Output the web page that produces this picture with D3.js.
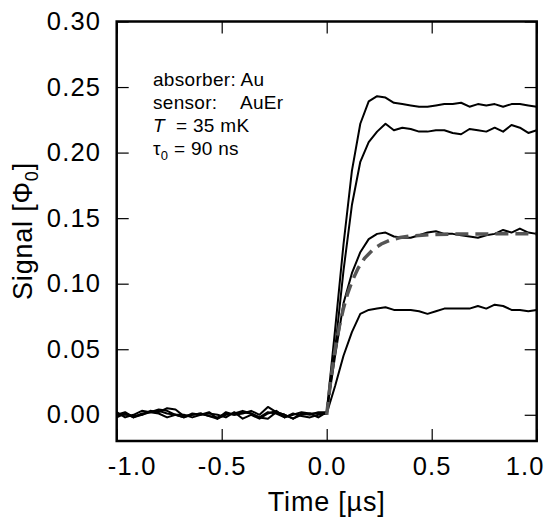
<!DOCTYPE html>
<html lang="en">
<head>
<meta charset="UTF-8">
<title>Signal vs time</title>
<style>
  body { margin: 0; background: #fff; }
  svg text { font-family: "Liberation Sans", Arial, Helvetica, sans-serif; fill: #000; }
</style>
</head>
<body>
<svg id="chart" width="547" height="521"></svg>

<script src="https://d3js.org/d3.v7.min.js"></script>
<script>
// time axis in µs
var times = [-1.00,-0.96,-0.92,-0.88,-0.84,-0.80,-0.76,-0.72,-0.68,-0.64,-0.60,-0.56,-0.52,-0.48,-0.44,-0.40,-0.36,-0.32,-0.28,-0.24,-0.20,-0.16,-0.12,-0.08,-0.04,
  0.00,0.04,0.08,0.12,0.16,0.20,0.24,0.28,0.32,0.36,0.40,0.44,0.48,0.52,0.56,0.60,0.64,0.68,0.72,0.76,0.80,0.84,0.88,0.92,0.96,1.00];

// measured pulses (Φ0)
var pulseA = [0.002,-0.002,0.000,0.003,0.002,0.004,0.003,0.000,-0.002,0.001,0.000,0.002,-0.003,0.000,0.001,0.003,0.001,-0.002,-0.003,0.002,0.000,-0.003,0.001,0.000,0.002,
  0.002,0.065,0.130,0.186,0.222,0.239,0.243,0.242,0.238,0.237,0.236,0.235,0.235,0.236,0.237,0.237,0.238,0.235,0.237,0.236,0.237,0.235,0.237,0.237,0.236,0.235];
var pulseB = [-0.002,0.001,-0.002,0.000,0.003,0.002,0.005,0.004,-0.001,0.000,0.001,-0.001,-0.002,0.001,0.000,0.002,0.001,-0.002,0.002,0.001,-0.002,0.000,0.002,0.001,0.001,
  0.001,0.050,0.110,0.160,0.193,0.208,0.216,0.222,0.217,0.219,0.218,0.216,0.216,0.217,0.217,0.215,0.214,0.218,0.217,0.216,0.219,0.216,0.221,0.219,0.215,0.217];
var pulseC = [0.000,0.002,-0.002,0.001,0.002,0.003,0.001,0.000,-0.002,0.000,0.001,-0.001,-0.003,0.002,0.000,0.001,0.003,0.000,0.006,0.002,0.000,-0.003,0.000,0.001,-0.002,
  0.002,0.045,0.085,0.108,0.124,0.134,0.138,0.139,0.136,0.135,0.135,0.137,0.139,0.140,0.138,0.138,0.137,0.136,0.135,0.137,0.138,0.141,0.139,0.142,0.139,0.138];
var pulseD = [-0.001,0.001,-0.001,0.000,0.002,0.001,-0.002,0.000,0.000,-0.002,0.000,0.001,0.000,-0.002,0.002,-0.003,0.000,-0.003,0.001,0.003,-0.002,0.001,-0.001,-0.002,0.000,
  0.001,0.022,0.045,0.063,0.077,0.080,0.081,0.082,0.080,0.080,0.080,0.079,0.077,0.079,0.081,0.081,0.081,0.081,0.083,0.081,0.084,0.083,0.080,0.080,0.079,0.080];

// fitted curve (dashed)
var fitTimes = [0.00,0.02,0.04,0.06,0.08,0.10,0.12,0.15,0.18,0.22,0.26,0.30,0.35,0.40,0.50,0.60,0.80,1.00];
var fitValues = [0.000,0.0275,0.0495,0.0672,0.0813,0.0926,0.1016,0.1119,0.1193,0.1260,0.1303,0.1331,0.1352,0.1364,0.1375,0.1378,0.1380,0.1380];

var xTicks = [-1.0,-0.5,0.0,0.5,1.0];
var yTicks = [0.00,0.05,0.10,0.15,0.20,0.25,0.30];

var svg = d3.select("#chart");
var mLeft = 116.7, mRight = 536.7, mTop = 21.5, mBottom = 441;

var x = d3.scaleLinear().domain([-1, 1]).range([mLeft, mRight]);
var y = d3.scaleLinear().domain([-0.02, 0.30]).range([mBottom, mTop]);

svg.append("defs").append("clipPath").attr("id", "clip")
  .append("rect").attr("x", mLeft).attr("y", mTop).attr("width", mRight - mLeft).attr("height", mBottom - mTop);

var line = d3.line()
  .x(function (d) { return x(d[0]); })
  .y(function (d) { return y(d[1]); });

var plot = svg.append("g").attr("clip-path", "url(#clip)");

[pulseA, pulseB, pulseC, pulseD].forEach(function (s) {
  plot.append("path")
    .attr("d", line(times.map(function (t, i) { return [t, s[i]]; })))
    .attr("fill", "none")
    .attr("stroke", "#000")
    .attr("stroke-width", 2)
    .attr("stroke-linejoin", "round");
});

plot.append("path")
  .attr("d", line(fitTimes.map(function (t, i) { return [t, fitValues[i]]; })))
  .attr("fill", "none")
  .attr("stroke", "#555")
  .attr("stroke-width", 3.5)
  .attr("stroke-dasharray", "13,7");

// axes with inward ticks
function styleAxis(g) {
  g.select(".domain").remove();
  g.selectAll(".tick line").attr("stroke", "#000").attr("stroke-width", 1.2);
  g.selectAll(".tick text").attr("font-size", 25.5).attr("fill", "#000")
    .attr("letter-spacing", 1.2)
    .style("font-family", "'Liberation Sans', Arial, sans-serif");
}
var fmt = function (d) { return d3.format(".1f")(d).replace("\u2212", "-"); };
var fmt2 = d3.format(".2f");

var xAxisG = svg.append("g").attr("transform", "translate(0," + mBottom + ")")
  .call(d3.axisBottom(x).tickValues(xTicks).tickFormat(fmt).tickSize(-12).tickPadding(15.5))
  .call(styleAxis);
// end labels pulled inward, as in the original figure
xAxisG.selectAll(".tick text").attr("dx", function (d) { return d === -1 ? 15 : (d === 1 ? -12 : 0); });

svg.append("g").attr("transform", "translate(0," + mTop + ")")
  .call(d3.axisTop(x).tickValues(xTicks).tickFormat("").tickSize(-12))
  .call(styleAxis);
svg.append("g").attr("transform", "translate(" + mLeft + ",0)")
  .call(d3.axisLeft(y).tickValues(yTicks).tickFormat(fmt2).tickSize(-12).tickPadding(15.5))
  .call(styleAxis);
svg.append("g").attr("transform", "translate(" + mRight + ",0)")
  .call(d3.axisRight(y).tickValues(yTicks).tickFormat("").tickSize(-12))
  .call(styleAxis);

// frame
svg.append("rect")
  .attr("x", mLeft).attr("y", mTop)
  .attr("width", mRight - mLeft).attr("height", mBottom - mTop)
  .attr("fill", "none").attr("stroke", "#000").attr("stroke-width", 2.5);

// axis labels
svg.append("text")
  .attr("x", (mLeft + mRight) / 2).attr("y", 511)
  .attr("text-anchor", "middle").attr("font-size", 27).attr("letter-spacing", 0.8)
  .text("Time [µs]");

var yl = svg.append("text")
  .attr("transform", "translate(32,231) rotate(-90)")
  .attr("text-anchor", "middle").attr("font-size", 27).attr("letter-spacing", 0.8);
yl.append("tspan").text("Signal [Φ");
yl.append("tspan").attr("font-size", 18).attr("dy", 6).text("0");
yl.append("tspan").attr("dy", -6).text("]");

// annotation
var ax = 153;
svg.append("text").attr("x", ax).attr("y", 86).attr("font-size", 19).attr("letter-spacing", 0.3).text("absorber: Au");
var s2 = svg.append("text").attr("y", 109).attr("font-size", 19).attr("letter-spacing", 0.3);
s2.append("tspan").attr("x", ax).text("sensor:");
s2.append("tspan").attr("x", 240).text("AuEr");
var s3 = svg.append("text").attr("y", 132).attr("font-size", 19).attr("letter-spacing", 0.3);
s3.append("tspan").attr("x", ax).attr("font-style", "italic").text("T");
s3.append("tspan").attr("x", 176).text("= 35 mK");
var s4 = svg.append("text").attr("y", 155).attr("font-size", 19).attr("letter-spacing", 0.3);
s4.append("tspan").attr("x", ax).text("τ");
s4.append("tspan").attr("font-size", 13).attr("dy", 5).text("0");
s4.append("tspan").attr("dy", -5).text(" = 90 ns");
</script>
</body>
</html>
